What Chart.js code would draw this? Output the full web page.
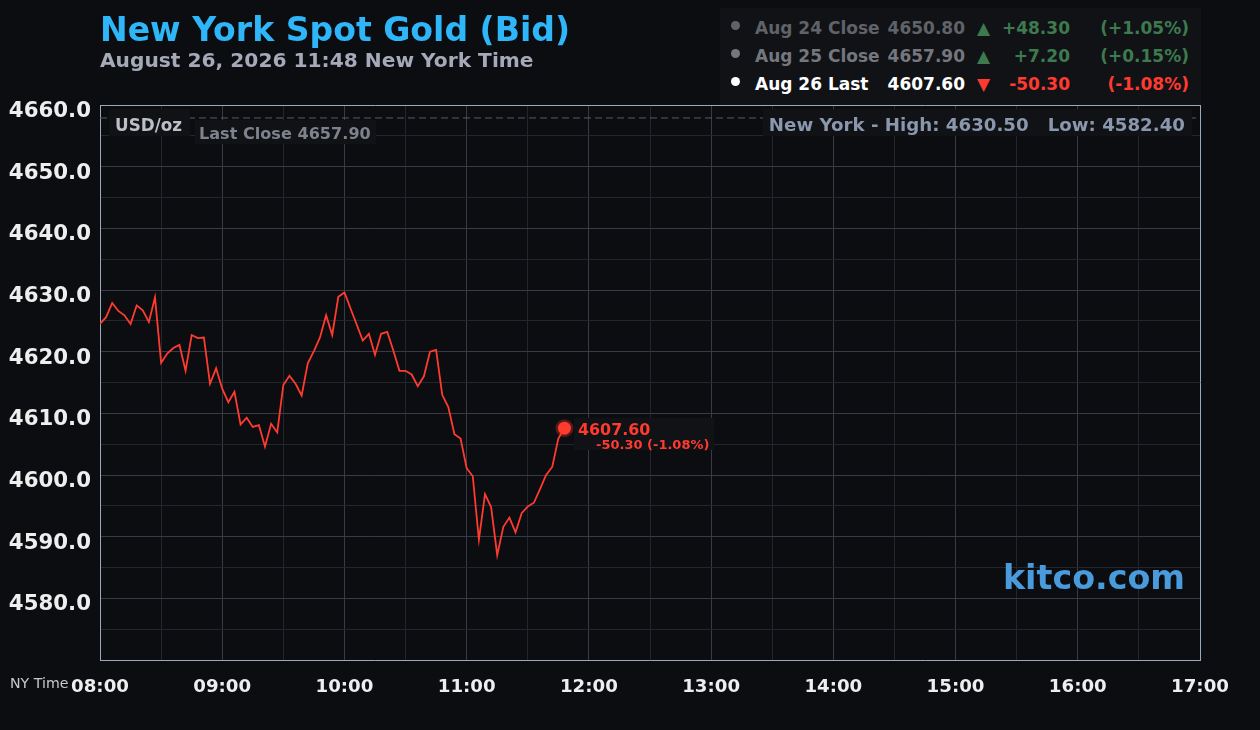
<!DOCTYPE html>
<html>
<head>
<meta charset="utf-8">
<title>New York Spot Gold (Bid)</title>
<script src="https://cdn.jsdelivr.net/npm/chart.js@4"></script>
<style>
  html, body { margin: 0; padding: 0; background: #0b0d11; }
  body { width: 1260px; height: 730px; position: relative; overflow: hidden; font-family: "DejaVu Sans", sans-serif; font-weight: bold; }
  canvas { position: absolute; left: 0; top: 0; }
  .txt { position: absolute; white-space: nowrap; line-height: 1; }
  .panel { position: absolute; background: #101216; }
  .dot { position: absolute; width: 9px; height: 9px; border-radius: 50%; }
</style>
</head>
<body>
<canvas id="goldChart" width="1260" height="730"></canvas>

<div class="txt" style="left:100px;top:13px;font-size:33.1px;color:#2eb6f9">New York Spot Gold (Bid)</div>
<div class="txt" style="left:100px;top:50px;font-size:20.2px;color:#a5a9b8">August 26, 2026 11:48 New York Time</div>

<div class="panel" style="left:720px;top:8px;width:481px;height:97px"></div>
<div id="legend"></div>

<div class="panel" style="left:109px;top:109px;width:81px;height:27px"></div>
<div class="txt" style="left:115px;top:117px;font-size:16.8px;color:#bcbfc7">USD/oz</div>
<div class="panel" style="left:195px;top:120px;width:181px;height:24px"></div>
<div class="txt" style="left:199px;top:126px;font-size:16.1px;color:#7f828c">Last Close 4657.90</div>
<div class="panel" style="left:763px;top:109px;width:429px;height:27px"></div>
<div class="txt" style="right:75px;top:116px;font-size:18.2px;color:#8a97ad">New York - High: 4630.50 &nbsp; Low: 4582.40</div>

<div class="panel" style="left:574px;top:418px;width:140px;height:32px"></div>
<div class="txt" style="left:578px;top:422px;font-size:15.9px;color:#ff3b30">4607.60</div>
<div class="txt" style="left:596px;top:438px;font-size:13px;color:#ff3b30">-50.30 (-1.08%)</div>

<div class="txt" style="right:75px;top:561px;font-size:33.3px;color:#4a9bdc">kitco.com</div>
<div class="txt" style="left:10px;top:676px;font-size:14.2px;font-weight:normal;color:#c8c8c8">NY Time</div>

<script>
// one reading every 3 minutes from 08:00 to 11:48
var startMinute = 480;
var stepMinutes = 3;
var goldPrices = [
  4624.5, 4625.6, 4627.9, 4626.6, 4625.9, 4624.5, 4627.5, 4626.7, 4624.8, 4628.8,
  4618.2, 4619.7, 4620.6, 4621.1, 4616.9, 4622.7, 4622.2, 4622.3, 4614.8, 4617.3,
  4614.0, 4611.8, 4613.5, 4608.2, 4609.3, 4607.8, 4608.1, 4604.6, 4608.3, 4606.9,
  4614.6, 4616.1, 4614.8, 4612.9, 4618.1, 4620.1, 4622.3, 4625.9, 4622.7, 4628.9,
  4629.6, 4627.0, 4624.4, 4621.8, 4622.9, 4619.5, 4622.9, 4623.2, 4620.2, 4616.9,
  4616.9, 4616.3, 4614.4, 4616.0, 4620.0, 4620.3, 4613.0, 4611.0, 4606.6, 4605.9,
  4601.1, 4599.8, 4589.5, 4596.9, 4594.8, 4587.0, 4591.6, 4593.1, 4590.7, 4593.8,
  4594.9, 4595.5, 4597.7, 4600.0, 4601.3, 4605.9, 4607.6
];
var lastClose = 4657.9;
var hourLabels = ['08:00', '09:00', '10:00', '11:00', '12:00', '13:00', '14:00', '15:00', '16:00', '17:00'];

var legendDays = ['Aug 24 Close', 'Aug 25 Close', 'Aug 26 Last'];
var legendPrices = ['4650.80', '4657.90', '4607.60'];
var legendChanges = ['+48.30', '+7.20', '-50.30'];
var legendPercents = ['(+1.05%)', '(+0.15%)', '(-1.08%)'];
var legendArrows = ['▲', '▲', '▼'];
var legendNameColors = ['#606269', '#75777f', '#ffffff'];
var legendDeltaColors = ['#3d7a4e', '#3d7a4e', '#ff3b30'];

var FRAME = '#9aa8c0';
var RED = '#ff3b30';

// legend rows on top of the panel
var legendHtml = '';
legendDays.forEach(function(day, i) {
  var top = 19.5 + i * 28;
  var fs = 'font-size:17px;top:' + top + 'px;';
  legendHtml += '<div class="dot" style="left:731px;top:' + (top + 1.5) + 'px;background:' + legendNameColors[i] + '"></div>';
  legendHtml += '<div class="txt" style="left:755px;' + fs + 'color:' + legendNameColors[i] + '">' + day + '</div>';
  legendHtml += '<div class="txt" style="right:295px;' + fs + 'color:' + legendNameColors[i] + '">' + legendPrices[i] + '</div>';
  legendHtml += '<div class="txt" style="left:977px;' + fs + 'color:' + legendDeltaColors[i] + '">' + legendArrows[i] + '</div>';
  legendHtml += '<div class="txt" style="right:190px;' + fs + 'color:' + legendDeltaColors[i] + '">' + legendChanges[i] + '</div>';
  legendHtml += '<div class="txt" style="right:71px;' + fs + 'color:' + legendDeltaColors[i] + '">' + legendPercents[i] + '</div>';
});
document.getElementById('legend').innerHTML = legendHtml;

var pricePoints = goldPrices.map(function(price, i) {
  return { x: startMinute + i * stepMinutes, y: price };
});

var ctx = document.getElementById('goldChart').getContext('2d');
var goldChart = new Chart(ctx, {
  type: 'line',
  data: {
    datasets: [{
      label: 'Last Close',
      data: [{ x: 480, y: lastClose }, { x: 1020, y: lastClose }],
      borderColor: '#5a5c64',
      borderWidth: 1,
      borderDash: [7, 4],
      pointRadius: 0
    }, {
      label: 'Spot Gold',
      data: pricePoints,
      borderColor: RED,
      borderWidth: 1.8,
      tension: 0,
      pointRadius: function(c) { return c.dataIndex === goldPrices.length - 1 ? 6.5 : 0; },
      pointBackgroundColor: RED,
      pointBorderColor: 'rgba(255, 59, 48, 0.3)',
      pointBorderWidth: 5
    }]
  },
  options: {
    responsive: false,
    animation: false,
    layout: { padding: { top: 105, right: 60, left: 0, bottom: 0 } },
    plugins: { legend: { display: false }, tooltip: { enabled: false } },
    scales: {
      x: {
        type: 'linear',
        min: 480,
        max: 1020,
        afterFit: function(scale) { scale.height = 70; },
        border: { color: FRAME, width: 1 },
        grid: {
          drawTicks: false,
          color: function(c) {
            if (c.tick.value === 1020) return FRAME;
            return c.tick.value % 60 === 0 ? '#383a45' : '#24262d';
          }
        },
        ticks: {
          stepSize: 30,
          autoSkip: false,
          maxRotation: 0,
          padding: 16,
          color: '#eeeeee',
          font: { family: 'DejaVu Sans', weight: 'bold', size: 18.2 },
          callback: function(value) {
            return value % 60 === 0 ? hourLabels[(value - 480) / 60] : '';
          }
        }
      },
      y: {
        min: 4570,
        max: 4660,
        afterFit: function(scale) { scale.width = 100; },
        border: { color: FRAME, width: 1 },
        grid: {
          drawTicks: false,
          color: function(c) {
            if (c.tick.value === 4660) return FRAME;
            return c.tick.value % 10 === 0 ? '#383a45' : '#24262d';
          }
        },
        ticks: {
          stepSize: 5,
          autoSkip: false,
          padding: 9,
          labelOffset: 6.5,
          color: '#eeeeee',
          font: { family: 'DejaVu Sans', weight: 'bold', size: 21.3 },
          callback: function(value) {
            return value % 10 === 0 && value > 4570 ? value.toFixed(1) : '';
          }
        }
      }
    }
  }
});
</script>
</body>
</html>
